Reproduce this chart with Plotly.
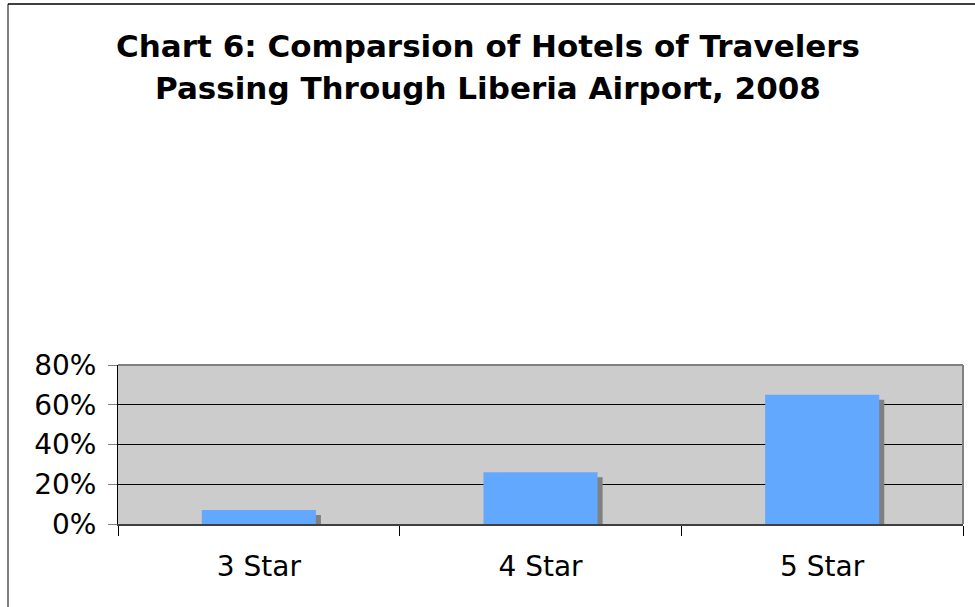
import plotly.graph_objects as go

categories = ["3 Star", "4 Star", "5 Star"]
shares = [0.07, 0.26, 0.65]
tick_vals = [0, 0.2, 0.4, 0.6, 0.8]
tick_text = ["0%", "20%", "40%", "60%", "80%"]

title_lines = ["Chart 6: Comparsion of Hotels of Travelers",
               "Passing Through Liberia Airport, 2008"]

bar_w = 0.405
shadow_dx = 0.018
shadow_dy = 0.025

fig = go.Figure()
fig.add_trace(go.Bar(
    x=categories, y=[v - shadow_dy for v in shares],
    width=bar_w, offset=-bar_w / 2 + shadow_dx,
    marker=dict(color="#808080", line=dict(width=0)),
    hoverinfo="skip", showlegend=False,
))
fig.add_trace(go.Bar(
    x=categories, y=shares,
    width=bar_w, offset=-bar_w / 2,
    marker=dict(color="#62A8FF", line=dict(width=0)),
    showlegend=False,
))

font_family = "Verdana, DejaVu Sans, sans-serif"

W, H = 975, 607
L, R, T, B = 118, 12, 365, 83
pw, ph = W - L - R, H - T - B


def px_x(x):
    return (x - L) / pw


def px_y(y):
    return (H - B - y) / ph


fig.update_layout(
    width=W, height=H,
    barmode="overlay",
    paper_bgcolor="white",
    plot_bgcolor="#CCCCCC",
    margin=dict(l=L, r=R, t=T, b=B),
    font=dict(family=font_family, size=28, color="black"),
    xaxis=dict(
        type="category",
        showline=True, linecolor="#404040", linewidth=2,
        ticks="outside", tickson="boundaries", ticklen=10, tickcolor="black", tickwidth=1,
        showgrid=False, tickfont=dict(size=28), ticklabelstandoff=16,
    ),
    yaxis=dict(
        range=[0, 0.8],
        tickvals=tick_vals, ticktext=tick_text,
        showline=True, linecolor="black", linewidth=1,
        ticks="outside", ticklen=9, tickcolor="#808080",
        showgrid=True, gridcolor="black", gridwidth=1,
        zeroline=False, tickfont=dict(size=28), ticklabelstandoff=6,
    ),
    annotations=[
        dict(text="<b>" + title_lines[0] + "</b>", xref="paper", yref="paper",
             x=px_x(488), y=px_y(46), xanchor="center", yanchor="middle",
             showarrow=False, font=dict(family=font_family, size=31, color="black")),
        dict(text="<b>" + title_lines[1] + "</b>", xref="paper", yref="paper",
             x=px_x(488), y=px_y(88), xanchor="center", yanchor="middle",
             showarrow=False, font=dict(family=font_family, size=31, color="black")),
    ],
    shapes=[
        dict(type="line", xref="paper", yref="paper", x0=0, x1=1, y0=1, y1=1,
             line=dict(color="#808080", width=2), layer="above"),
        dict(type="line", xref="paper", yref="paper", x0=1, x1=1, y0=0, y1=1,
             line=dict(color="#808080", width=2), layer="above"),
        dict(type="line", xref="paper", yref="paper", x0=px_x(8), x1=px_x(8),
             y0=px_y(4), y1=px_y(620),
             line=dict(color="#808080", width=2)),
        dict(type="line", xref="paper", yref="paper", x0=px_x(8), x1=px_x(990),
             y0=px_y(4), y1=px_y(4),
             line=dict(color="black", width=1.5)),
    ],
)

fig.write_html("out.html", config={"displayModeBar": False},
               post_script="document.body.style.margin='0';")
